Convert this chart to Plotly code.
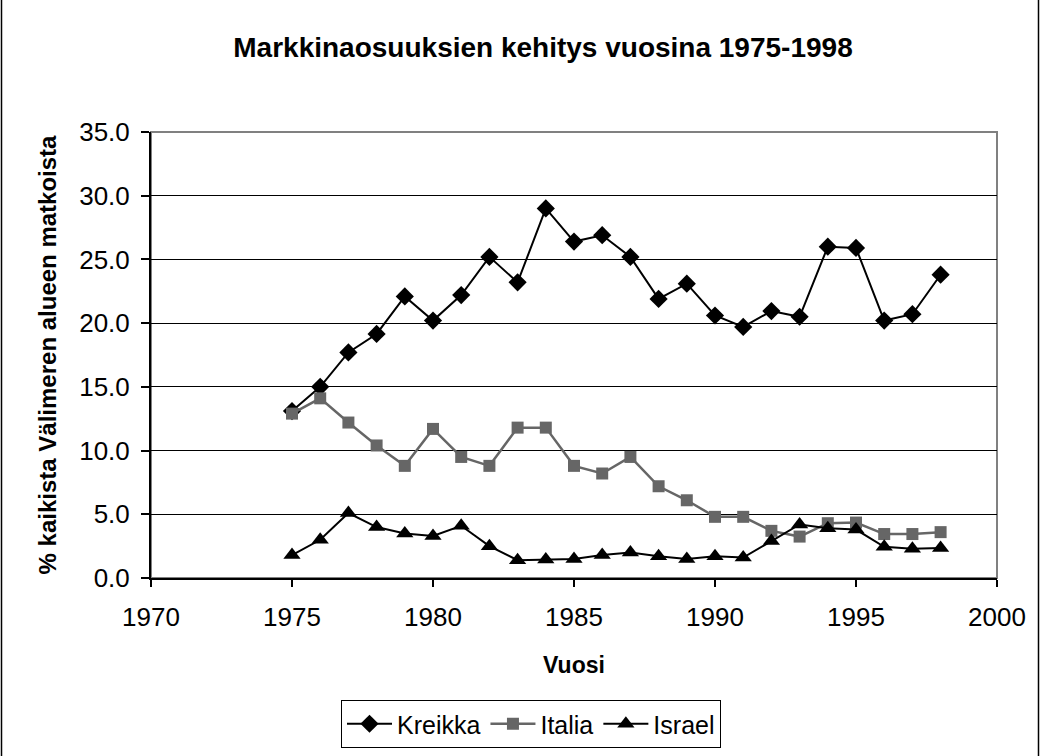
import plotly.graph_objects as go

years = list(range(1975, 1999))
kreikka = [13.1, 15.0, 17.7, 19.15, 22.1, 20.2, 22.2, 25.2, 23.2, 29.0, 26.4, 26.9,
           25.2, 21.9, 23.1, 20.6, 19.7, 20.95, 20.5, 26.0, 25.9, 20.2, 20.7, 23.8]
italia = [12.9, 14.1, 12.2, 10.4, 8.8, 11.7, 9.5, 8.8, 11.8, 11.8, 8.8, 8.2,
          9.5, 7.2, 6.1, 4.8, 4.8, 3.7, 3.25, 4.3, 4.35, 3.45, 3.45, 3.6]
israel = [1.8, 3.0, 5.1, 4.0, 3.5, 3.3, 4.1, 2.5, 1.4, 1.45, 1.5, 1.8,
          2.0, 1.7, 1.5, 1.7, 1.6, 2.9, 4.2, 3.9, 3.8, 2.45, 2.3, 2.35]

FONT = "Liberation Sans, Arial, sans-serif"

fig = go.Figure()
fig.add_trace(go.Scatter(x=years, y=kreikka, name="Kreikka", mode="lines+markers",
                         line=dict(color="#000000", width=2),
                         marker=dict(symbol="diamond", size=14, color="#000000")))
fig.add_trace(go.Scatter(x=years, y=italia, name="Italia", mode="lines+markers",
                         line=dict(color="#666666", width=2.5),
                         marker=dict(symbol="square", size=12, color="#666666")))
fig.add_trace(go.Scatter(x=years, y=israel, name="Israel", mode="lines+markers",
                         line=dict(color="#000000", width=2),
                         marker=dict(symbol="triangle-up", size=15, color="#000000")))

L, R, T, B = 151, 43, 132, 178
W, H = 1040, 756
pw, ph = W - L - R, H - T - B

fig.update_layout(
    width=W, height=H,
    margin=dict(l=L, r=R, t=T, b=B, autoexpand=False),
    paper_bgcolor="white", plot_bgcolor="white",
    font=dict(family=FONT, color="#000000", size=26),
    title=dict(text="<b>Markkinaosuuksien kehitys vuosina 1975-1998</b>",
               x=543 / W, xanchor="center", y=1 - 47 / H, yanchor="middle",
               font=dict(size=28)),
    xaxis=dict(range=[1970, 2000], dtick=5, tick0=1970, showgrid=False,
               showline=True, linecolor="#000000", linewidth=2,
               ticks="outside", ticklen=7, tickcolor="#000000", tickwidth=1.5,
               ticklabelstandoff=8, tickfont=dict(size=26),
               zeroline=False,
               title=dict(text="<b>Vuosi</b>", font=dict(size=23), standoff=26)),
    yaxis=dict(range=[0, 35], dtick=5, tickformat=".1f",
               showgrid=True, gridcolor="#000000", gridwidth=1,
               showline=True, linecolor="#000000", linewidth=2,
               ticks="outside", ticklen=8, tickcolor="#000000", tickwidth=1.5,
               ticklabelstandoff=6, tickfont=dict(size=26),
               zeroline=False,
               title=dict(text="<b>% kaikista Välimeren alueen matkoista</b>",
                          font=dict(size=24), standoff=16)),
    legend=dict(orientation="h", x=(531 - L) / pw, xanchor="center",
                y=(0 - (748 - (H - B))) / ph, yanchor="bottom",
                bordercolor="#000000", borderwidth=1, bgcolor="white",
                font=dict(size=25), tracegroupgap=0, itemwidth=45),
    showlegend=True,
)

# plot-area frame (grey) and outer chart frame (black)
fig.add_shape(type="rect", xref="paper", yref="paper", x0=0, x1=1, y0=0, y1=1,
              line=dict(color="#808080", width=2), layer="below")
fig.add_shape(type="rect", xref="paper", yref="paper",
              x0=(1.5 - L) / pw, x1=(W - 1.5 - L) / pw,
              y0=(B - H + 1.5) / ph, y1=(H - B - 1.5) / ph + T / ph,
              line=dict(color="#000000", width=1.5))

fig.write_html("out.html")
